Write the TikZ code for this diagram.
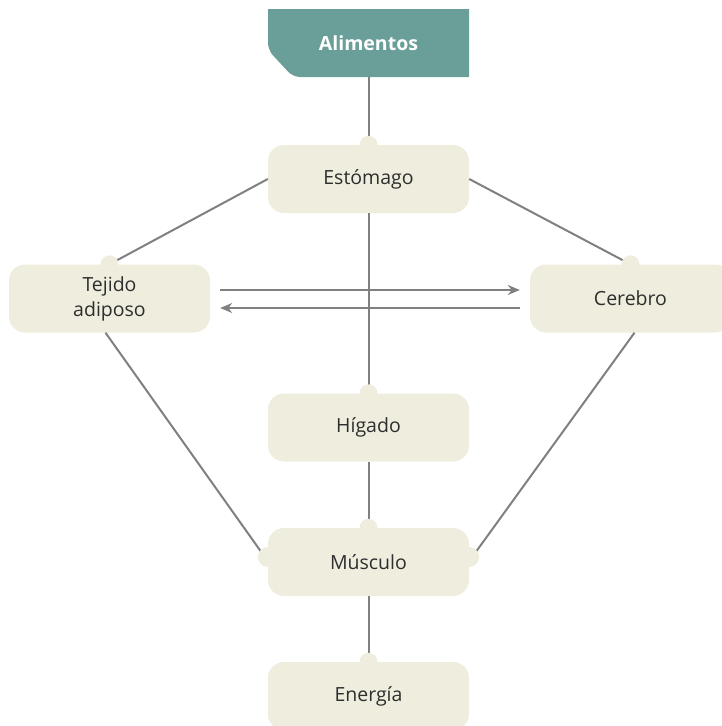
\documentclass[tikz,border=0pt]{standalone}
\usepackage{fontspec}
\setmainfont{Open Sans}
\usetikzlibrary{arrows.meta}
\definecolor{boxfill}{HTML}{EFEDDE}
\definecolor{headfill}{HTML}{6A9E98}
\definecolor{linegray}{HTML}{808080}
\definecolor{textgray}{HTML}{2E2E2E}
\tikzset{
  organ/.style={fill=boxfill,rounded corners=16pt,minimum width=201pt,minimum height=68pt,
    inner sep=0pt,text=textgray,align=center,font=\fontsize{19.5}{25}\selectfont},
  conn/.style={draw=linegray,line width=2pt},
  bump/.style={fill=boxfill}
}
\begin{document}
\begin{tikzpicture}[x=1pt,y=-1pt]
        \useasboundingbox (0,0) rectangle (722,726);
        \clip (0,0) rectangle (722,726);
        \fill[headfill] (268,9) -- (469,9) -- (469,77) {[rounded corners=7pt] -- (293,77) -- (268,50)} -- cycle;
        \node[text=white,font=\fontsize{19.5}{25}\selectfont\bfseries] (ali) at (368.5,43) {Alimentos};
        \coordinate (alibot) at (368.5,77);
        \node[organ] (est) at (368.5,179) {Estómago};
        \node[organ] (tej) at (109.5,298.5) {Tejido\\adiposo};
        \node[organ] (cer) at (630.5,298.5) {Cerebro};
        \node[organ] (hig) at (368.5,427.5) {Hígado};
        \node[organ] (mus) at (368.5,562) {Músculo};
        \node[organ] (ene) at (368.5,696) {Energía};
        \draw[conn] (alibot) -- (est.north);
        \draw[conn] (est.west) -- (tej.north);
        \draw[conn] (est.east) -- (cer.north);
        \draw[conn] (est.south) -- (hig.north);
        \draw[conn] ([xshift=-4pt]tej.south) -- ([xshift=-3pt,yshift=5pt]mus.west);
        \draw[conn] ([xshift=4pt]cer.south) -- ([xshift=3pt,yshift=5pt]mus.east);
        \draw[conn] (hig.south) -- (mus.north);
        \draw[conn] (mus.south) -- (ene.north);
        \draw[conn,-{Stealth[length=12pt,width=10pt]}] ([xshift=10pt,yshift=8.5pt]tej.east) -- ([xshift=-10pt,yshift=8.5pt]cer.west);
        \draw[conn,-{Stealth[length=12pt,width=10pt]}] ([xshift=-10pt,yshift=-9.5pt]cer.west) -- ([xshift=10pt,yshift=-9.5pt]tej.east);
        \fill[bump] (est.north) circle[radius=9pt];
        \fill[bump] (tej.north) circle[radius=9pt];
        \fill[bump] (cer.north) circle[radius=9pt];
        \fill[bump] (hig.north) circle[radius=9pt];
        \fill[bump] (mus.north) circle[radius=9pt];
        \fill[bump] ([yshift=5pt]mus.west) circle[radius=10pt];
        \fill[bump] ([yshift=5pt]mus.east) circle[radius=10pt];
        \fill[bump] (ene.north) circle[radius=9pt];
    \end{tikzpicture}
\end{document}
